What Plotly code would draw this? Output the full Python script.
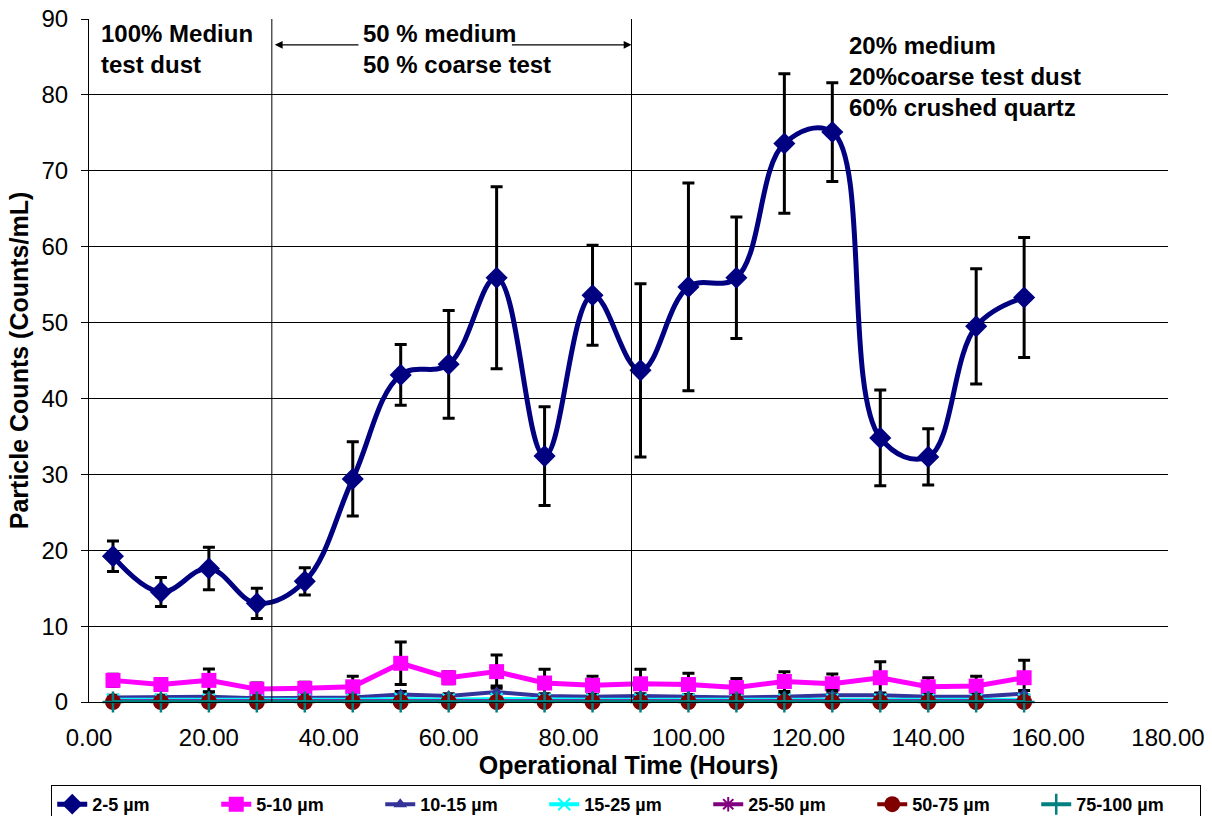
import plotly.graph_objects as go

# Operational time of each sampling point (hours)
hours = [4, 12, 20, 28, 36, 44, 52, 60, 68, 76, 84, 92, 100, 108, 116, 124, 132, 140, 148, 156]

# Particle counts (counts/mL) per size class
c_2_5 = [19.2, 14.5, 17.6, 13.0, 15.9, 29.4, 43.1, 44.5, 55.9, 32.4,
         53.6, 43.7, 54.7, 55.9, 73.6, 75.1, 34.8, 32.3, 49.5, 53.3]
e_2_5 = [2.0, 1.9, 2.8, 2.0, 1.8, 4.9, 4.0, 7.1, 12.0, 6.5,
         6.6, 11.4, 13.7, 8.0, 9.2, 6.5, 6.3, 3.7, 7.6, 7.9]

c_5_10 = [2.85, 2.3, 2.85, 1.7, 1.8, 2.0, 5.1, 3.2, 4.0, 2.5,
          2.2, 2.4, 2.3, 1.9, 2.7, 2.4, 3.2, 2.0, 2.1, 3.2]
e_5_10 = [0.8, 0.8, 1.5, 0.8, 0.8, 1.4, 2.8, 0.8, 2.2, 1.8,
          1.2, 1.9, 1.5, 1.2, 1.3, 1.3, 2.1, 1.2, 1.3, 2.3]

c_10_15 = [0.6, 0.6, 0.7, 0.5, 0.6, 0.6, 1.0, 0.8, 1.3, 0.8,
           0.7, 0.8, 0.7, 0.6, 0.7, 0.9, 0.9, 0.7, 0.7, 1.1]
e_10_15 = [0.3, 0.3, 0.6, 0.3, 0.3, 0.3, 0.4, 0.3, 0.8, 0.3,
           0.3, 0.3, 0.3, 0.3, 0.3, 0.6, 0.3, 0.3, 0.3, 0.4]

c_15_25 = [0.3, 0.3, 0.3, 0.2, 0.3, 0.3, 0.4, 0.3, 0.4, 0.3,
           0.3, 0.3, 0.3, 0.2, 0.3, 0.3, 0.3, 0.3, 0.3, 0.3]
c_25_50 = [0.1] * 20
c_50_75 = [0.0] * 20
c_75_100 = [0.0] * 20

size_labels = ["2-5 µm", "5-10 µm", "10-15 µm", "15-25 µm", "25-50 µm", "50-75 µm", "75-100 µm"]

x_ticks = [0, 20, 40, 60, 80, 100, 120, 140, 160, 180]
x_tickmarks = [0, 40, 80, 120, 160, 180]
y_ticks = [0, 10, 20, 30, 40, 50, 60, 70, 80, 90]

FONT = "Liberation Sans, Arial, sans-serif"

fig = go.Figure()


def err(vals):
    return dict(type="data", array=vals, visible=True, color="black", thickness=3, width=6)


fig.add_trace(go.Scatter(
    x=hours, y=c_2_5, name=size_labels[0], mode="lines+markers",
    line=dict(color="#000080", width=5, shape="spline", smoothing=1.1),
    marker=dict(symbol="diamond", size=17, color="#000080"),
    error_y=err(e_2_5)))
fig.add_trace(go.Scatter(
    x=hours, y=c_5_10, name=size_labels[1], mode="lines+markers",
    line=dict(color="#FF00FF", width=5),
    marker=dict(symbol="square", size=15, color="#FF00FF"),
    error_y=err(e_5_10)))
fig.add_trace(go.Scatter(
    x=hours, y=c_10_15, name=size_labels[2], mode="lines+markers",
    line=dict(color="#333399", width=4),
    marker=dict(symbol="triangle-up", size=12, color="#333399"),
    error_y=err(e_10_15)))
fig.add_trace(go.Scatter(
    x=hours, y=c_15_25, name=size_labels[3], mode="lines+markers",
    line=dict(color="#00FFFF", width=4),
    marker=dict(symbol="x-thin", size=12, line=dict(color="#00FFFF", width=2))))
fig.add_trace(go.Scatter(
    x=hours, y=c_25_50, name=size_labels[4], mode="lines+markers",
    line=dict(color="#800080", width=4),
    marker=dict(symbol="asterisk", size=12, line=dict(color="#800080", width=2))))
fig.add_trace(go.Scatter(
    x=hours, y=c_50_75, name=size_labels[5], mode="lines+markers",
    line=dict(color="#800000", width=4),
    marker=dict(symbol="circle", size=16, color="#800000")))
fig.add_trace(go.Scatter(
    x=hours, y=c_75_100, name=size_labels[6], mode="lines+markers",
    line=dict(color="#008080", width=4),
    marker=dict(symbol="cross-thin", size=15, line=dict(color="#008080", width=2.5))))

# Let markers sitting on the zero line show in full
fig.update_traces(cliponaxis=False)

# Phase boundaries
for xb in (30.5, 90.5):
    fig.add_shape(type="line", x0=xb, x1=xb, y0=0, y1=90, xref="x", yref="y",
                  line=dict(color="black", width=1))

ann_font = dict(family=FONT, size=24, color="black")
fig.add_annotation(x=1.7, y=86.0, xref="x", yref="y", xanchor="left", yanchor="middle",
                   align="left", showarrow=False, font=ann_font,
                   text="<b>100% Mediun<br>test dust</b>")
fig.add_annotation(x=45.4, y=86.0, xref="x", yref="y", xanchor="left", yanchor="middle",
                   align="left", showarrow=False, font=ann_font,
                   text="<b>50 % medium<br>50 % coarse test</b>")
fig.add_annotation(x=126.5, y=82.4, xref="x", yref="y", xanchor="left", yanchor="middle",
                   align="left", showarrow=False, font=ann_font,
                   text="<b>20% medium<br>20%coarse test dust<br>60% crushed quartz</b>")
# Arrows spanning the mixed-dust phase
for head, tail in ((31.0, 45.2), (90.5, 70.3)):
    fig.add_annotation(x=head, y=86.6, ax=tail, ay=86.6, xref="x", yref="y",
                       axref="x", ayref="y", text="", showarrow=True,
                       arrowhead=2, arrowsize=1.2, arrowwidth=1.3, arrowcolor="black")

fig.update_layout(
    width=1212, height=816,
    margin=dict(l=89, r=44, t=19, b=114, autoexpand=False),
    paper_bgcolor="white", plot_bgcolor="white",
    font=dict(family=FONT, color="black"),
    showlegend=True,
    legend=dict(
        orientation="h", x=-0.035, xanchor="left", y=-0.1215, yanchor="top",
        bordercolor="black", borderwidth=1,
        font=dict(family=FONT, size=18, color="black", weight="bold"),
        entrywidth=119, entrywidthmode="pixels", tracegroupgap=0,
    ),
    xaxis=dict(
        range=[0, 180], tickmode="array", tickvals=x_ticks, tickformat=".2f",
        showgrid=False, zeroline=False, showline=True, linecolor="black", linewidth=1,
        ticks="", tickfont=dict(family=FONT, size=24, color="black"),
        ticklabelstandoff=14,
        title=dict(text="<b>Operational Time (Hours)</b>", font=dict(family=FONT, size=25),
                   standoff=2),
    ),
    xaxis2=dict(
        range=[0, 180], overlaying="x", anchor="y", side="bottom",
        tickmode="array", tickvals=x_tickmarks, ticktext=[""] * len(x_tickmarks),
        ticks="outside", ticklen=8, tickcolor="black", tickwidth=1,
        showgrid=False, zeroline=False, showline=False,
    ),
    yaxis=dict(
        range=[0, 90], tickmode="array", tickvals=y_ticks,
        showgrid=True, gridcolor="black", gridwidth=1, zeroline=False,
        showline=True, linecolor="black", linewidth=1,
        ticks="outside", ticklen=7, tickcolor="black",
        tickfont=dict(family=FONT, size=24, color="black"), ticklabelstandoff=8,
        title=dict(text="<b>Particle Counts (Counts/mL)</b>", font=dict(family=FONT, size=25),
                   standoff=5),
    ),
)

fig.write_html("out.html")
